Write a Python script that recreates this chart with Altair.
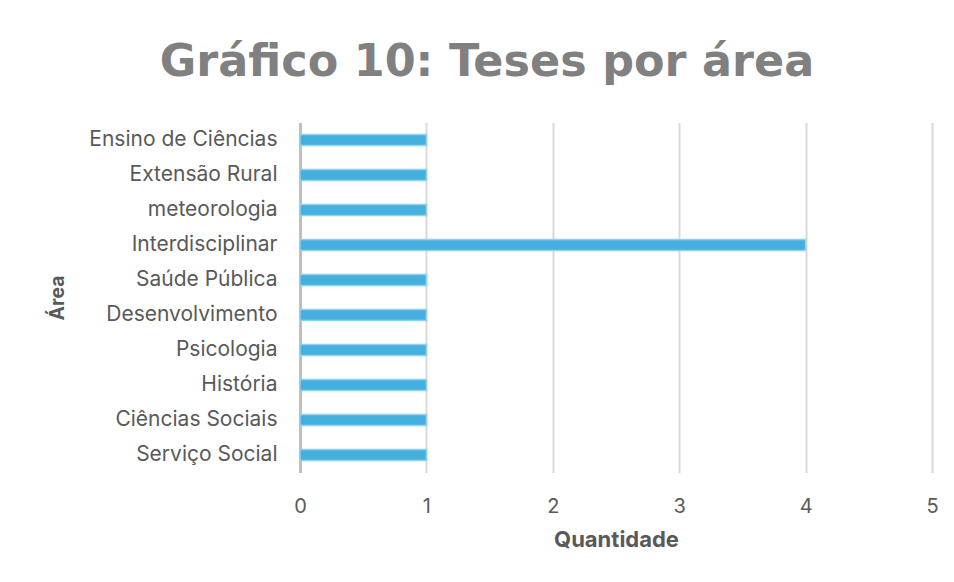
import altair as alt
import pandas as pd

areas = [
    "Ensino de Ciências",
    "Extensão Rural",
    "meteorologia",
    "Interdisciplinar",
    "Saúde Pública",
    "Desenvolvimento",
    "Psicologia",
    "História",
    "Ciências Sociais",
    "Serviço Social",
]
quantidade = [1, 1, 1, 4, 1, 1, 1, 1, 1, 1]
x_ticks = [0, 1, 2, 3, 4, 5]

df = pd.DataFrame({"Área": areas, "Quantidade": quantidade})

label_font = "Inter"
text_color = "#595959"

chart = (
    alt.Chart(df)
    .mark_bar(size=11, fill="#45b0de", stroke="#8ed0ee", strokeWidth=1.5)
    .encode(
        y=alt.Y(
            "Área:N",
            sort=areas,
            scale=alt.Scale(paddingInner=0, paddingOuter=0),
            axis=alt.Axis(
                title="Área",
                titleFont=label_font,
                titleFontSize=19.5,
                titleFontWeight="bold",
                titleColor=text_color,
                titleX=-243,
                titleY=175,
                titleAngle=-90,
                titleAlign="center",
                titleBaseline="middle",
                labelFont=label_font,
                labelFontSize=21,
                labelFontWeight=400,
                labelColor=text_color,
                labelPadding=23,
                labelLimit=400,
                ticks=False,
                domain=True,
                domainColor="#bfbfbf",
                domainWidth=3,
                grid=False,
            ),
        ),
        x=alt.X(
            "Quantidade:Q",
            scale=alt.Scale(domain=[0, 5], nice=False),
            axis=alt.Axis(
                title="Quantidade",
                values=x_ticks,
                format="d",
                titleFont=label_font,
                titleFontSize=22,
                titleFontWeight="bold",
                titleColor=text_color,
                titlePadding=13,
                labelFont=label_font,
                labelFontSize=20,
                labelFontWeight=400,
                labelColor=text_color,
                labelPadding=24,
                labelFlush=False,
                ticks=False,
                domain=False,
                grid=True,
                gridColor="#d9d9d9",
                gridWidth=2,
            ),
        ),
    )
    .properties(
        width=632,
        height=350,
        padding={"left": 292, "top": 114.5, "right": 14, "bottom": 100},
        autosize=alt.AutoSizeParams(type="none"),
        title=alt.TitleParams(
            text="Gráfico 10: Teses por área",
            font="DejaVu Sans",
            fontSize=44.5,
            fontWeight="bold",
            color="#808080",
            anchor="middle",
            dx=-129,
            offset=37,
        ),
        background="white",
    )
    .configure_view(stroke=None)
)

chart.save("out.html", embed_options={"renderer": "svg", "actions": False})
